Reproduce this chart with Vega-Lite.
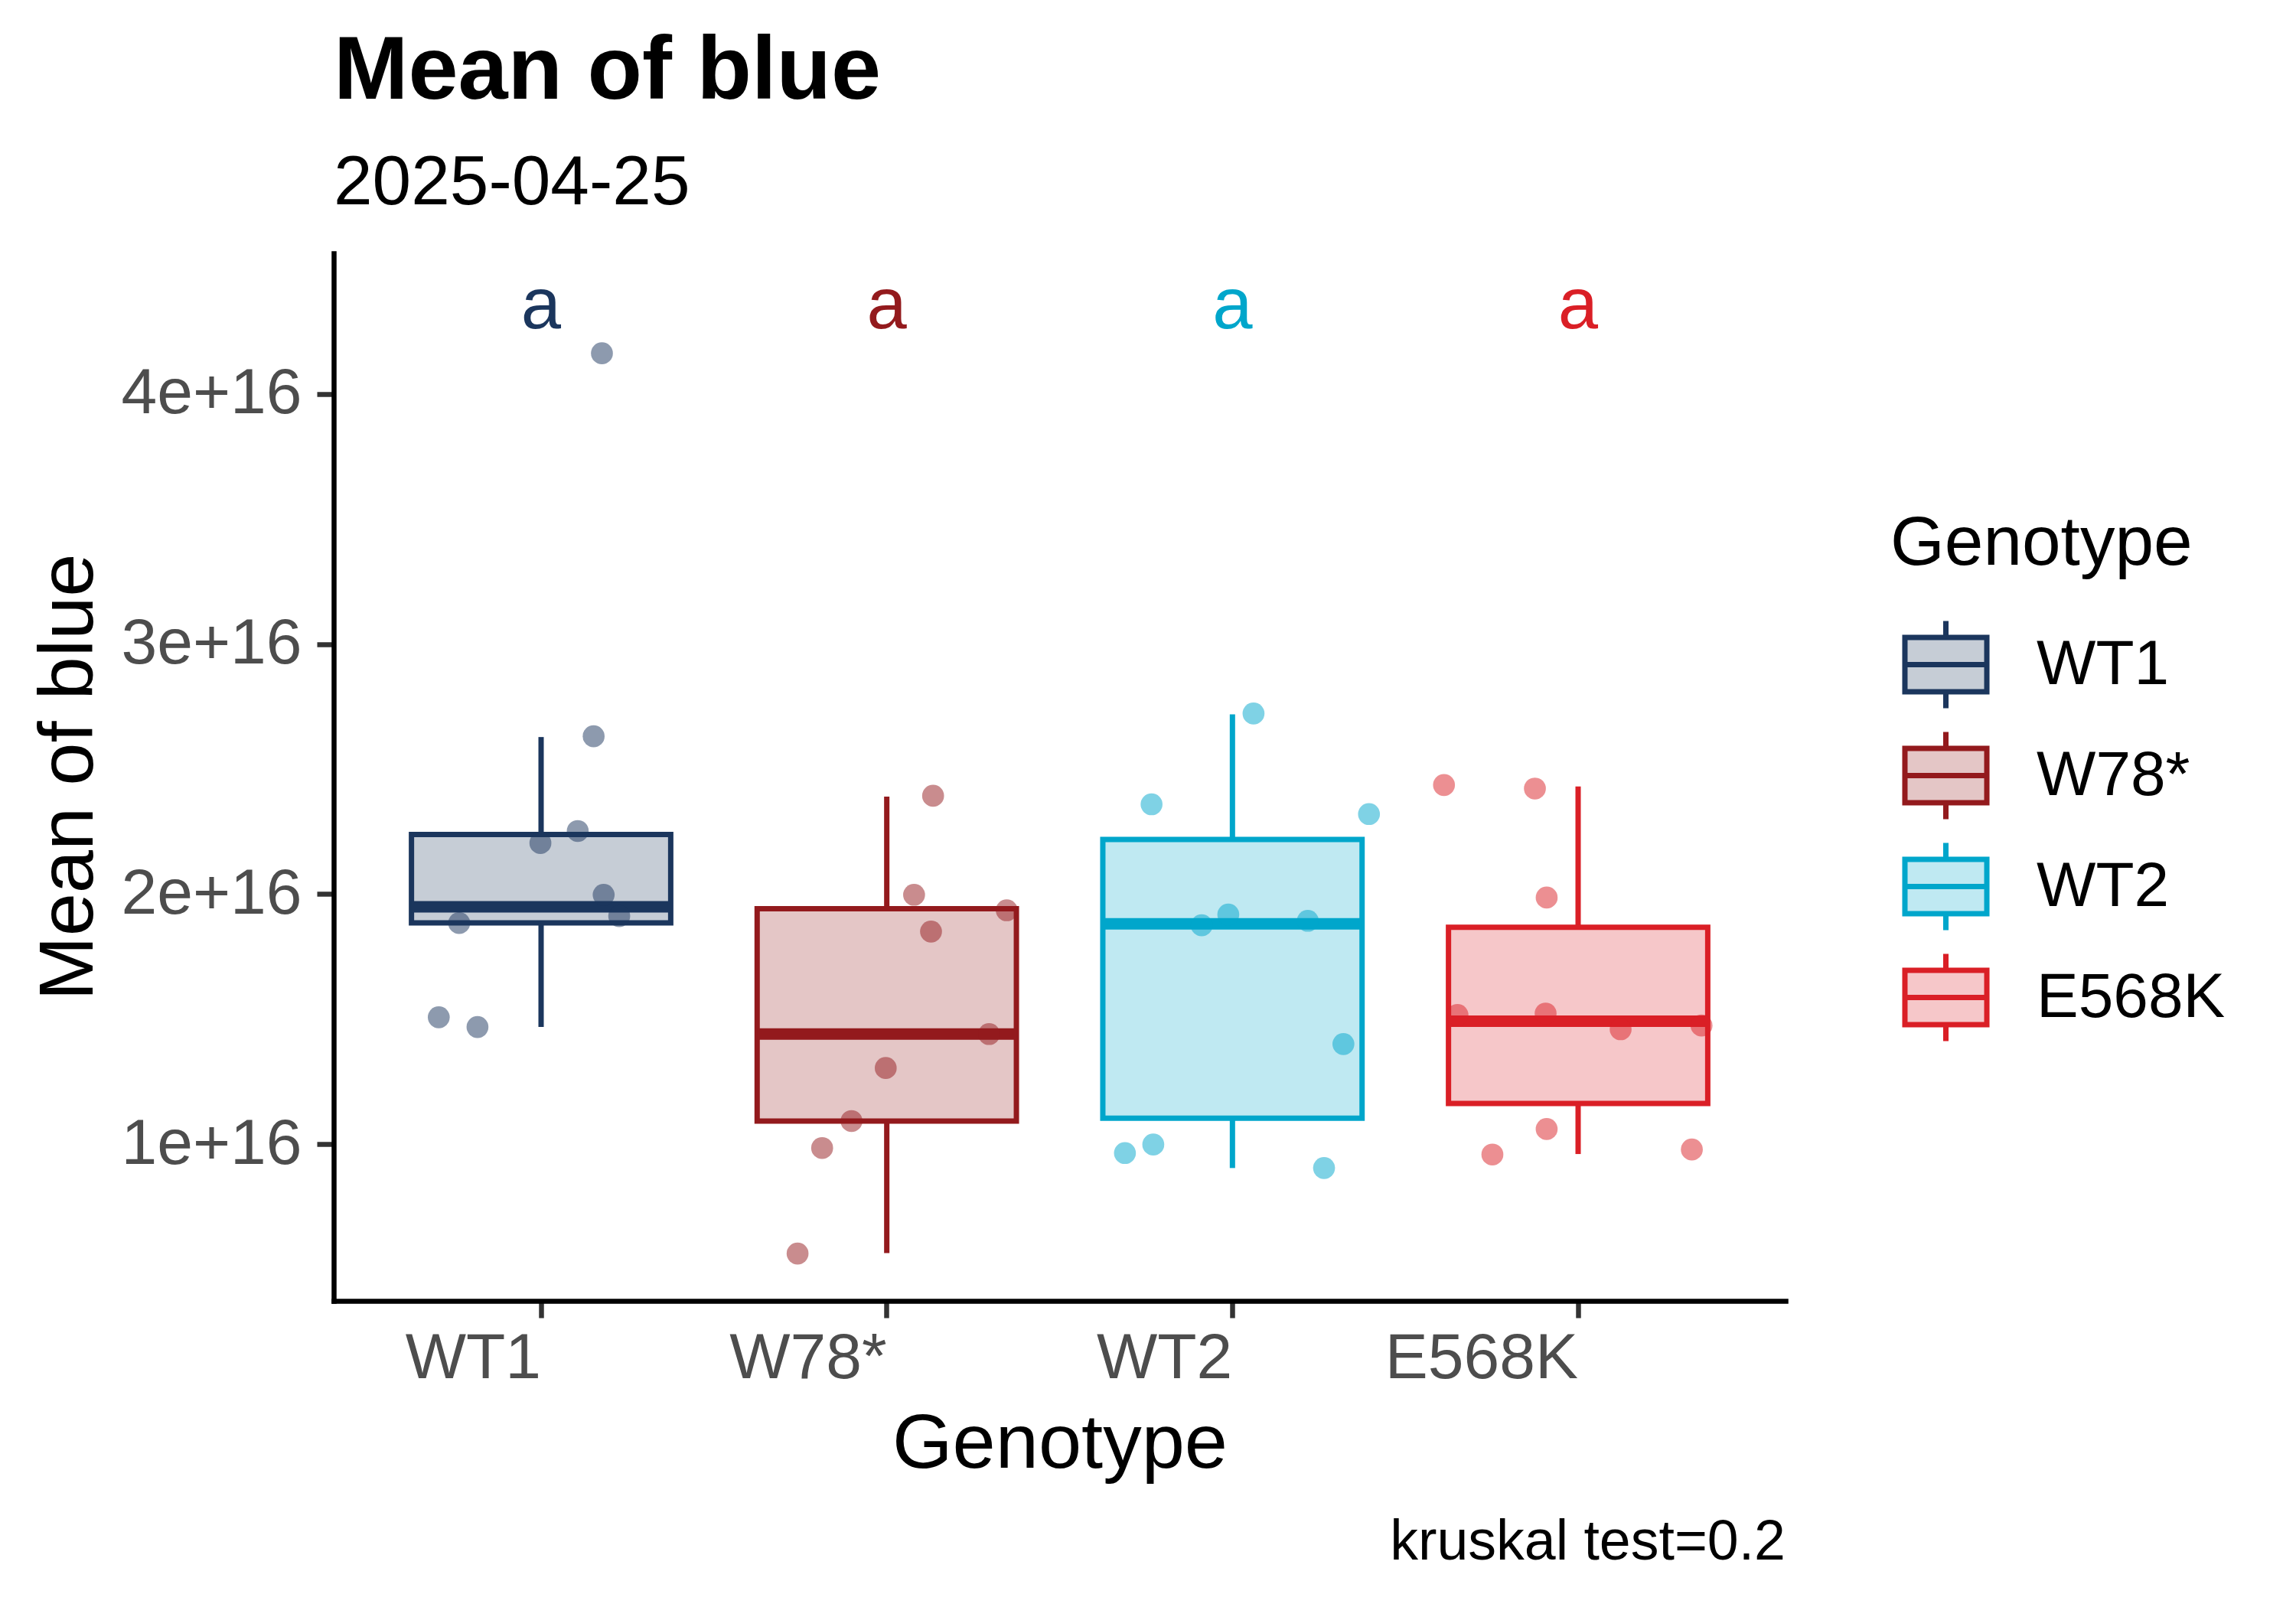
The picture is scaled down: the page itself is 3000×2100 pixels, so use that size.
{
  "$schema": "https://vega.github.io/schema/vega-lite/v6.json",
  "width": 1897,
  "height": 1369,
  "autosize": {"type": "none"},
  "padding": {"left": 436, "top": 331, "right": 667, "bottom": 400},
  "background": "white",
  "title": {
    "text": "Mean of blue",
    "subtitle": "2025-04-25",
    "anchor": "start",
    "frame": "group",
    "font": "Liberation Sans",
    "fontSize": 117,
    "fontWeight": "bold",
    "color": "black",
    "subtitleFont": "Liberation Sans",
    "subtitleFontSize": 91,
    "subtitleColor": "black",
    "subtitlePadding": 41,
    "offset": 44,
    "limit": 0
  },
  "datasets": {
    "boxes": [
      {"Genotype": "WT1", "lower": 1.468e16, "q1": 1.885e16, "median": 1.949e16, "q3": 2.238e16, "upper": 2.628e16, "letter": "a"},
      {"Genotype": "W78*", "lower": 0.564e16, "q1": 1.092e16, "median": 1.44e16, "q3": 1.941e16, "upper": 2.39e16, "letter": "a"},
      {"Genotype": "WT2", "lower": 0.904e16, "q1": 1.103e16, "median": 1.881e16, "q3": 2.218e16, "upper": 2.719e16, "letter": "a"},
      {"Genotype": "E568K", "lower": 0.96e16, "q1": 1.162e16, "median": 1.491e16, "q3": 1.867e16, "upper": 2.43e16, "letter": "a"}
    ],
    "points": [
      {"Genotype": "WT1", "blue": 4.163e16, "jitter": 0.176},
      {"Genotype": "WT1", "blue": 2.631e16, "jitter": 0.152},
      {"Genotype": "WT1", "blue": 2.252e16, "jitter": 0.106},
      {"Genotype": "WT1", "blue": 2.204e16, "jitter": -0.002},
      {"Genotype": "WT1", "blue": 1.997e16, "jitter": 0.181},
      {"Genotype": "WT1", "blue": 1.884e16, "jitter": -0.237},
      {"Genotype": "WT1", "blue": 1.912e16, "jitter": 0.226},
      {"Genotype": "WT1", "blue": 1.507e16, "jitter": -0.296},
      {"Genotype": "WT1", "blue": 1.468e16, "jitter": -0.184},
      {"Genotype": "W78*", "blue": 2.393e16, "jitter": 0.134},
      {"Genotype": "W78*", "blue": 1.997e16, "jitter": 0.079},
      {"Genotype": "W78*", "blue": 1.935e16, "jitter": 0.347},
      {"Genotype": "W78*", "blue": 1.85e16, "jitter": 0.128},
      {"Genotype": "W78*", "blue": 1.44e16, "jitter": 0.296},
      {"Genotype": "W78*", "blue": 1.304e16, "jitter": -0.003},
      {"Genotype": "W78*", "blue": 1.092e16, "jitter": -0.102},
      {"Genotype": "W78*", "blue": 0.984e16, "jitter": -0.187},
      {"Genotype": "W78*", "blue": 0.562e16, "jitter": -0.258},
      {"Genotype": "WT2", "blue": 2.722e16, "jitter": 0.061},
      {"Genotype": "WT2", "blue": 2.359e16, "jitter": -0.234},
      {"Genotype": "WT2", "blue": 2.32e16, "jitter": 0.395},
      {"Genotype": "WT2", "blue": 1.875e16, "jitter": -0.089},
      {"Genotype": "WT2", "blue": 1.918e16, "jitter": -0.012},
      {"Genotype": "WT2", "blue": 1.893e16, "jitter": 0.218},
      {"Genotype": "WT2", "blue": 1.4e16, "jitter": 0.321},
      {"Genotype": "WT2", "blue": 0.964e16, "jitter": -0.311},
      {"Genotype": "WT2", "blue": 0.998e16, "jitter": -0.229},
      {"Genotype": "WT2", "blue": 0.904e16, "jitter": 0.265},
      {"Genotype": "E568K", "blue": 2.436e16, "jitter": -0.388},
      {"Genotype": "E568K", "blue": 2.422e16, "jitter": -0.125},
      {"Genotype": "E568K", "blue": 1.986e16, "jitter": -0.091},
      {"Genotype": "E568K", "blue": 1.516e16, "jitter": -0.349},
      {"Genotype": "E568K", "blue": 1.522e16, "jitter": -0.094},
      {"Genotype": "E568K", "blue": 1.459e16, "jitter": 0.123},
      {"Genotype": "E568K", "blue": 1.474e16, "jitter": 0.357},
      {"Genotype": "E568K", "blue": 1.06e16, "jitter": -0.091},
      {"Genotype": "E568K", "blue": 0.958e16, "jitter": -0.248},
      {"Genotype": "E568K", "blue": 0.978e16, "jitter": 0.329}
    ]
  },
  "resolve": {"scale": {"xOffset": "independent"}},
  "layer": [
    {
      "data": {"name": "boxes"},
      "mark": {"type": "rule", "strokeWidth": 7},
      "encoding": {
        "x": {"field": "Genotype", "type": "nominal"},
        "y": {"field": "q3", "type": "quantitative"},
        "y2": {"field": "upper"},
        "color": {"field": "Genotype", "type": "nominal"}
      }
    },
    {
      "data": {"name": "boxes"},
      "mark": {"type": "rule", "strokeWidth": 7},
      "encoding": {
        "x": {"field": "Genotype", "type": "nominal"},
        "y": {"field": "lower", "type": "quantitative"},
        "y2": {"field": "q1"},
        "color": {"field": "Genotype", "type": "nominal"}
      }
    },
    {
      "data": {"name": "boxes"},
      "mark": {"type": "bar", "width": {"band": 0.75}, "fillOpacity": 0.25, "strokeWidth": 7},
      "encoding": {
        "x": {
          "field": "Genotype",
          "type": "nominal",
          "sort": ["WT1", "W78*", "WT2", "E568K"],
          "scale": {"type": "band", "domain": ["WT1", "W78*", "WT2", "E568K"], "paddingInner": 0, "paddingOuter": 0.1},
          "axis": {"title": "Genotype", "labelAngle": 0, "labelAlign": "right", "labelPadding": 53, "titlePadding": 20}
        },
        "y": {
          "field": "q1",
          "type": "quantitative",
          "scale": {"domain": [0.3725e16, 4.563e16], "nice": false, "zero": false},
          "axis": {
            "title": "Mean of blue",
            "values": [1e16, 2e16, 3e16, 4e16],
            "format": ".0e",
            "labelPadding": 20,
            "titleX": -316,
            "titleY": 684,
            "titleAlign": "center",
            "titleAngle": -90,
            "titleBaseline": "alphabetic"
          }
        },
        "y2": {"field": "q3"},
        "color": {
          "field": "Genotype",
          "type": "nominal",
          "scale": {"domain": ["WT1", "W78*", "WT2", "E568K"], "range": ["#1B365D", "#931A1D", "#00A6CB", "#DA1F26"]},
          "legend": {
            "title": "Genotype",
            "orient": "none",
            "legendX": 2034,
            "legendY": 335,
            "padding": 0,
            "symbolType": "M0,-1V-0.623M0,0.623V1M-0.939,-0.623H0.939V0.623H-0.939ZM-0.939,0H0.939",
            "symbolSize": 12996,
            "symbolStrokeWidth": 7,
            "symbolOffset": 12,
            "labelOffset": 58,
            "rowPadding": 2,
            "titlePadding": 51,
            "labelLimit": 0,
            "titleLimit": 0,
            "titleFont": "Liberation Sans",
            "titleFontSize": 91,
            "titleFontWeight": "normal",
            "titleColor": "black",
            "labelFont": "Liberation Sans",
            "labelFontSize": 82,
            "labelColor": "black",
            "encode": {
              "symbols": {
                "update": {
                  "stroke": {"scale": "color", "field": "value"},
                  "fill": {"scale": "color", "field": "value"},
                  "fillOpacity": {"value": 0.25},
                  "opacity": {"value": 1}
                }
              }
            }
          }
        },
        "stroke": {
          "field": "Genotype",
          "type": "nominal",
          "scale": {"domain": ["WT1", "W78*", "WT2", "E568K"], "range": ["#1B365D", "#931A1D", "#00A6CB", "#DA1F26"]},
          "legend": null
        }
      }
    },
    {
      "data": {"name": "boxes"},
      "mark": {"type": "tick", "orient": "horizontal", "size": 339, "thickness": 15, "opacity": 1},
      "encoding": {
        "x": {"field": "Genotype", "type": "nominal"},
        "y": {"field": "median", "type": "quantitative"},
        "color": {"field": "Genotype", "type": "nominal"}
      }
    },
    {
      "data": {"name": "points"},
      "mark": {"type": "circle", "size": 820, "opacity": 0.5},
      "encoding": {
        "x": {"field": "Genotype", "type": "nominal"},
        "xOffset": {"field": "jitter", "type": "quantitative", "scale": {"domain": [-0.5, 0.5], "range": [0, 451.67]}},
        "y": {"field": "blue", "type": "quantitative"},
        "color": {"field": "Genotype", "type": "nominal"}
      }
    },
    {
      "data": {"name": "boxes"},
      "mark": {"type": "text", "fontSize": 94, "baseline": "alphabetic", "align": "center"},
      "encoding": {
        "x": {"field": "Genotype", "type": "nominal"},
        "y": {"datum": 4.263e16},
        "text": {"field": "letter"},
        "color": {"field": "Genotype", "type": "nominal"}
      }
    },
    {
      "data": {"values": [{"caption": "kruskal test=0.2"}]},
      "mark": {"type": "text", "fontSize": 73.5, "align": "right", "baseline": "alphabetic", "dy": 338, "color": "black"},
      "encoding": {
        "x": {"value": "width"},
        "y": {"value": "height"},
        "text": {"field": "caption"}
      }
    }
  ],
  "config": {
    "font": "Liberation Sans",
    "view": {"stroke": null},
    "text": {"font": "Liberation Sans"},
    "axis": {
      "grid": false,
      "domainColor": "black",
      "domainWidth": 6.5,
      "domainCap": "square",
      "tickColor": "#333333",
      "tickWidth": 6.5,
      "tickSize": 22,
      "labelLimit": 0,
      "titleLimit": 0,
      "labelFont": "Liberation Sans",
      "labelFontSize": 84,
      "labelColor": "#4D4D4D",
      "titleFont": "Liberation Sans",
      "titleFontSize": 101,
      "titleFontWeight": "normal",
      "titleColor": "black"
    }
  }
}
